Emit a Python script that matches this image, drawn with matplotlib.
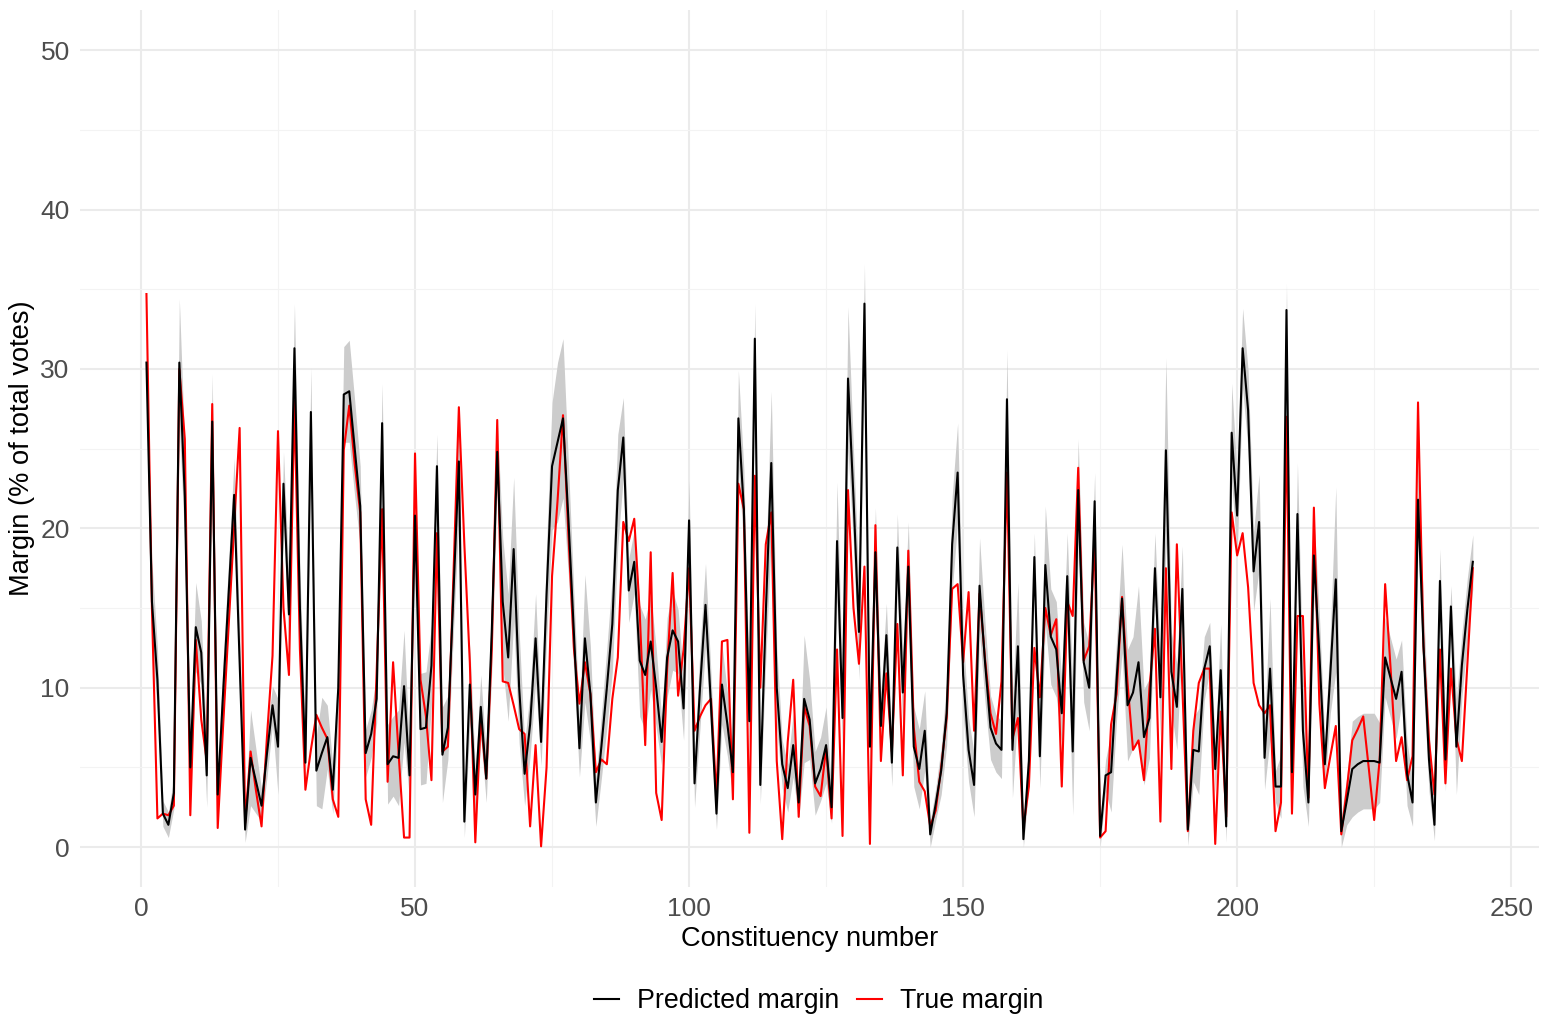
import matplotlib
matplotlib.use("Agg")
import matplotlib.pyplot as plt
import numpy as np

plt.rcParams['font.family'] = ['Liberation Sans', 'DejaVu Sans']

# predicted margin (black line), constituencies 1..243
predicted = [
    30.4, 15.4, 10.5, 2.1, 1.4, 3.4, 30.4, 22.0, 5.0, 13.8,
    12.2, 4.5, 26.7, 3.3, 9.8, 16.0, 22.1, 11.7, 1.1, 5.6,
    4.1, 2.6, 5.9, 8.9, 6.3, 22.8, 14.6, 31.3, 15.0, 5.3,
    27.3, 4.8, 5.9, 6.9, 3.6, 10.0, 28.4, 28.6, 25.0, 21.4,
    5.9, 7.1, 9.3, 26.6, 5.2, 5.7, 5.6, 10.1, 4.5, 20.8,
    7.4, 7.5, 11.4, 23.9, 5.8, 7.5, 15.9, 24.2, 1.6, 10.2,
    3.3, 8.8, 4.3, 13.5, 24.8, 15.4, 11.9, 18.7, 10.0, 4.6,
    7.7, 13.1, 6.6, 15.9, 23.9, 25.4, 26.9, 20.5, 13.3, 6.2,
    13.1, 9.6, 2.8, 6.3, 10.0, 14.0, 22.4, 25.7, 16.1, 17.9,
    11.7, 10.8, 12.9, 10.0, 6.6, 11.9, 13.6, 12.9, 8.7, 20.5,
    4.0, 10.0, 15.2, 8.9, 2.1, 10.2, 7.7, 4.7, 26.9, 21.2,
    7.9, 31.9, 3.9, 14.7, 24.1, 10.0, 5.2, 3.7, 6.4, 2.8,
    9.3, 8.0, 4.0, 4.9, 6.4, 2.5, 19.2, 8.1, 29.4, 21.9,
    13.5, 34.1, 6.3, 18.5, 7.6, 13.3, 5.3, 18.8, 9.7, 17.6,
    6.3, 4.9, 7.3, 0.8, 2.7, 4.8, 8.4, 19.0, 23.5, 10.8,
    6.1, 3.9, 16.4, 11.6, 7.5, 6.5, 6.1, 28.1, 6.1, 12.6,
    0.5, 5.4, 18.2, 5.7, 17.7, 13.2, 12.4, 8.4, 17.0, 6.0,
    22.4, 11.6, 10.0, 21.7, 0.7, 4.5, 4.7, 10.5, 15.6, 8.9,
    9.7, 11.6, 6.9, 8.1, 17.5, 9.4, 24.9, 11.0, 8.8, 16.2,
    1.1, 6.1, 6.0, 11.2, 12.6, 4.9, 11.1, 1.3, 26.0, 20.8,
    31.3, 27.4, 17.3, 20.4, 5.6, 11.2, 3.8, 3.8, 33.7, 4.7,
    20.9, 7.3, 2.8, 18.3, 12.1, 5.2, 10.9, 16.8, 1.0, 2.9,
    4.9, 5.2, 5.4, 5.4, 5.4, 5.3, 11.9, 10.6, 9.3, 11.0,
    4.6, 2.8, 21.8, 12.6, 5.5, 1.4, 16.7, 5.5, 15.1, 6.3,
    11.4, 14.9, 17.9,
]

# true margin (red line)
true_margin = [
    34.7, 15.0, 1.8, 2.1, 2.0, 2.6, 30.0, 25.6, 2.0, 13.0,
    8.0, 5.4, 27.8, 1.2, 7.7, 13.9, 20.0, 26.3, 1.5, 6.0,
    3.5, 1.3, 7.0, 12.0, 26.1, 15.0, 10.8, 28.0, 12.4, 3.6,
    6.1, 8.3, 7.5, 6.8, 3.0, 1.9, 24.9, 27.7, 24.0, 21.0,
    3.0, 1.4, 11.0, 21.2, 4.1, 11.6, 5.9, 0.6, 0.6, 24.7,
    10.5, 8.2, 4.2, 19.7, 6.0, 6.3, 17.0, 27.6, 19.0, 11.6,
    0.3, 8.1, 4.3, 12.4, 26.8, 10.4, 10.3, 8.9, 7.4, 7.1,
    1.3, 6.4, 0.05, 5.0, 17.0, 21.7, 27.1, 19.5, 12.4, 9.0,
    11.6, 9.6, 4.7, 5.5, 5.2, 9.3, 11.9, 20.4, 19.2, 20.6,
    14.7, 6.4, 18.5, 3.4, 1.7, 11.2, 17.2, 9.5, 12.4, 17.5,
    7.3, 8.2, 8.9, 9.3, 3.1, 12.9, 13.0, 3.0, 22.8, 21.2,
    0.9, 23.3, 10.0, 19.0, 21.0, 5.4, 0.5, 6.6, 10.5, 1.9,
    8.8, 7.6, 3.8, 3.2, 6.2, 1.8, 12.4, 0.7, 22.4, 15.0,
    11.5, 17.6, 0.2, 20.2, 5.4, 10.9, 6.0, 14.0, 4.5, 18.6,
    7.5, 4.1, 3.5, 1.3, 2.3, 5.0, 8.1, 16.2, 16.5, 11.6,
    16.0, 7.3, 15.9, 11.8, 8.4, 7.1, 10.4, 23.5, 6.8, 8.1,
    1.2, 3.8, 12.5, 9.4, 15.0, 13.3, 14.3, 3.8, 15.4, 14.5,
    23.8, 11.7, 12.6, 19.3, 0.6, 1.0, 7.7, 9.6, 15.7, 10.3,
    6.1, 6.7, 4.2, 10.0, 13.7, 1.6, 17.5, 4.9, 19.0, 10.0,
    1.0, 7.3, 10.3, 11.2, 11.2, 0.2, 8.5, 1.9, 21.0, 18.3,
    19.7, 16.3, 10.3, 8.9, 8.4, 8.9, 1.0, 2.8, 27.0, 2.1,
    14.5, 14.5, 3.1, 21.3, 9.0, 3.7, 5.7, 7.6, 0.8, 3.6,
    6.7, 7.4, 8.2, 5.0, 1.7, 5.5, 16.5, 11.2, 5.4, 6.9,
    4.2, 5.7, 27.9, 12.6, 6.7, 3.3, 12.4, 4.0, 11.2, 6.8,
    5.4, 11.4, 17.5,
]

# half-width of the grey prediction interval
band = [
    2.0, 2.5, 2.0, 0.8, 0.8, 1.0, 4.0, 3.0, 1.5, 2.8,
    2.0, 2.0, 3.0, 1.2, 2.0, 2.0, 2.3, 2.0, 0.8, 3.0,
    2.0, 1.0, 1.5, 1.2, 3.0, 2.0, 2.5, 2.8, 2.5, 1.5,
    2.8, 2.2, 3.5, 2.0, 1.5, 2.0, 3.0, 3.2, 3.0, 2.5,
    1.5, 1.5, 1.5, 2.5, 2.5, 2.5, 3.0, 3.5, 1.5, 2.0,
    3.5, 3.5, 2.5, 2.0, 3.0, 2.0, 2.5, 3.5, 1.0, 2.5,
    1.5, 2.0, 1.5, 2.5, 2.0, 4.0, 4.0, 4.5, 3.5, 2.0,
    2.0, 2.8, 1.5, 3.0, 4.0, 5.0, 5.0, 3.5, 2.5, 1.8,
    4.0, 3.0, 1.5, 2.0, 2.5, 3.0, 3.5, 2.5, 2.0, 2.0,
    3.5, 3.5, 3.0, 2.5, 1.5, 2.5, 2.5, 2.0, 2.0, 2.5,
    1.5, 2.5, 2.6, 2.0, 1.0, 2.5, 2.0, 1.5, 3.0, 2.5,
    2.0, 2.2, 1.2, 3.0, 4.5, 2.5, 1.5, 1.5, 2.0, 1.0,
    4.0, 2.5, 2.0, 2.0, 2.4, 1.0, 3.7, 2.0, 4.5, 3.0,
    3.0, 2.5, 2.0, 2.8, 2.0, 2.0, 1.5, 2.1, 2.5, 2.8,
    2.5, 2.5, 2.5, 0.8, 1.0, 1.5, 2.0, 3.0, 3.1, 2.5,
    2.0, 2.0, 3.0, 2.5, 2.0, 1.8, 1.8, 3.1, 3.0, 4.0,
    0.8, 1.5, 1.5, 2.0, 3.7, 3.0, 3.0, 2.0, 2.7, 4.0,
    3.2, 2.5, 2.7, 1.8, 1.0, 1.0, 2.5, 2.5, 3.4, 3.5,
    3.5, 4.8, 3.0, 2.5, 2.2, 2.5, 5.8, 2.5, 2.7, 2.7,
    1.0, 2.0, 2.7, 2.0, 1.5, 1.5, 2.9, 1.0, 3.1, 2.5,
    2.5, 2.5, 2.5, 3.0, 2.0, 4.4, 1.0, 2.0, 1.7, 1.5,
    3.2, 3.5, 1.5, 2.5, 2.5, 1.5, 2.5, 5.8, 1.0, 1.5,
    3.0, 3.0, 3.0, 3.0, 3.0, 2.5, 2.5, 2.5, 2.5, 2.0,
    2.0, 1.5, 2.5, 2.5, 2.0, 1.0, 2.0, 2.0, 1.3, 3.0,
    2.0, 2.0, 1.7,
]

constituency = np.arange(1, len(predicted) + 1)
pred = np.array(predicted)
lo = np.clip(pred - np.array(band), 0, None)
hi = pred + np.array(band)

fig = plt.figure(figsize=(15.5, 10.34), dpi=100)
ax = fig.add_axes([0.0517, 0.1422, 0.9413, 0.8478])

ax.fill_between(constituency, lo, hi, color='#CCCCCC', lw=0, zorder=1)
ax.plot(constituency, true_margin, color='#FF0000', lw=1.5, zorder=2, label='True margin')
ax.plot(constituency, predicted, color='black', lw=1.5, zorder=3, label='Predicted margin')

ax.set_xlim(-11.1, 255.1)
ax.set_ylim(-2.5, 52.5)
ax.set_xticks([0, 50, 100, 150, 200, 250])
ax.set_yticks([0, 10, 20, 30, 40, 50])
ax.set_xticks([25, 75, 125, 175, 225], minor=True)
ax.set_yticks([5, 15, 25, 35, 45], minor=True)
ax.grid(which='major', color='#EBEBEB', lw=1.5)
ax.grid(which='minor', color='#F3F3F3', lw=0.8)
ax.set_axisbelow(True)
ax.tick_params(which='both', length=0, labelsize=19, labelcolor='#4D4D4D')
ax.tick_params(axis='x', pad=7)
ax.tick_params(axis='y', pad=7.5)
for s in ax.spines.values():
    s.set_visible(False)

ax.set_xlabel('Constituency number', fontsize=19.6, labelpad=4)
ax.set_ylabel('Margin (% of total votes)', fontsize=19.6, labelpad=4)

h, l = ax.get_legend_handles_labels()
fig.legend(h[::-1], l[::-1], loc='center', bbox_to_anchor=(0.528, 0.032), ncol=2,
           frameon=False, fontsize=19.3, handlelength=0.93, columnspacing=0.67,
           handletextpad=0.67)

fig.savefig('out.png', dpi=100)
